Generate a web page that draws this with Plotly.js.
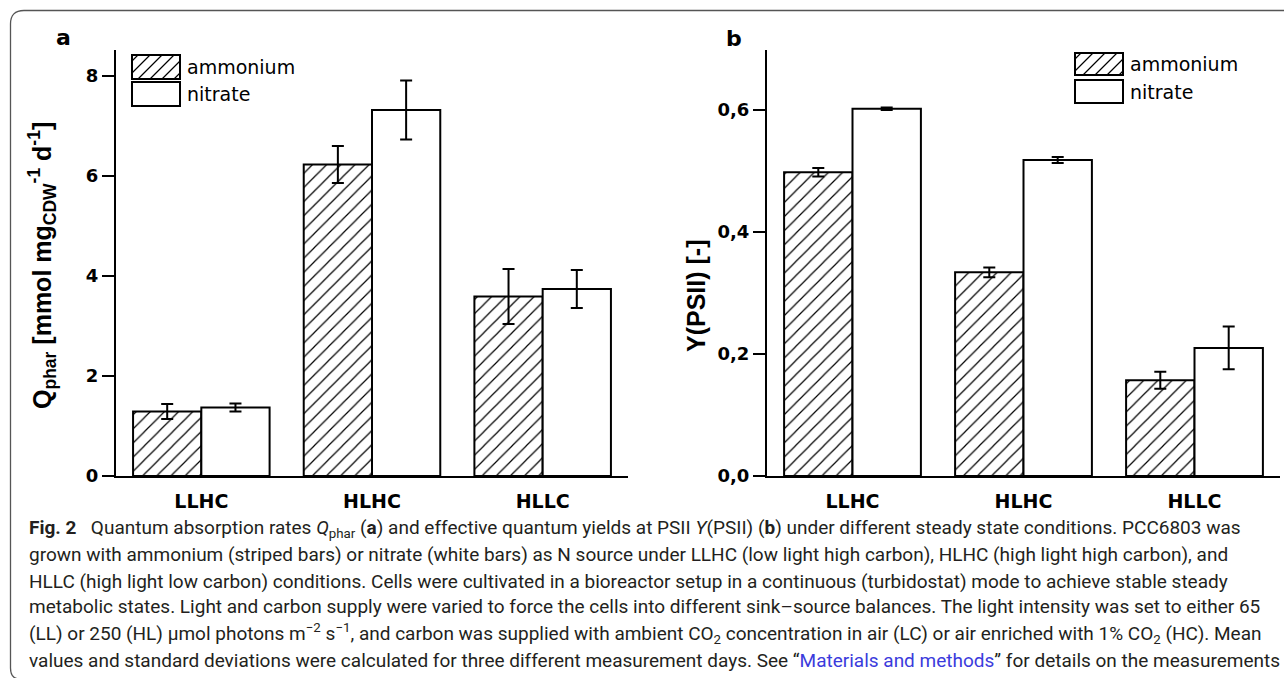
<!DOCTYPE html>
<html>
<head>
<meta charset="utf-8">
<script src="https://cdn.plot.ly/plotly-3.0.1.min.js"></script>
<style>
html,body{margin:0;padding:0;background:#fff;}
#chart{width:1284px;height:678px;}
</style>
</head>
<body>
<div id="chart"></div>
<script>
// ---- data ----
const categories = ['LLHC', 'HLHC', 'HLLC'];
const qpharAmmonium   = [1.29, 6.23, 3.59];
const qpharAmmoniumSd = [0.15, 0.37, 0.55];
const qpharNitrate    = [1.37, 7.32, 3.74];
const qpharNitrateSd  = [0.08, 0.59, 0.38];
const ypsiiAmmonium   = [0.498, 0.334, 0.157];
const ypsiiAmmoniumSd = [0.007, 0.008, 0.014];
const ypsiiNitrate    = [0.602, 0.518, 0.210];
const ypsiiNitrateSd  = [0.002, 0.005, 0.035];
const qpharTicks = [0, 2, 4, 6, 8];
const ypsiiTicks = [0, 0.2, 0.4, 0.6];
const seriesNames = ['ammonium', 'nitrate'];

// ---- helpers ----
const W = 1284, H = 678;
const px = x => x / W;
const py = y => 1 - y / H;

function barTrace(y, sd, hatched, xa, ya, name) {
  const marker = {color: '#ffffff', line: {color: '#000000', width: 2}};
  if (hatched) {
    marker.pattern = {shape: '/', fgcolor: '#000000', bgcolor: '#ffffff', size: 10, solidity: 0.12, fillmode: 'replace'};
  }
  return {
    type: 'bar', x: categories, y: y, name: name, xaxis: xa, yaxis: ya,
    showlegend: false, hoverinfo: 'skip', marker: marker,
    error_y: {type: 'data', array: sd, visible: true, color: '#000000', thickness: 2, width: 6}
  };
}

const data = [
  barTrace(qpharAmmonium, qpharAmmoniumSd, true, 'x', 'y', seriesNames[0]),
  barTrace(qpharNitrate, qpharNitrateSd, false, 'x', 'y', seriesNames[1]),
  barTrace(ypsiiAmmonium, ypsiiAmmoniumSd, true, 'x2', 'y2', seriesNames[0]),
  barTrace(ypsiiNitrate, ypsiiNitrateSd, false, 'x2', 'y2', seriesNames[1])
];

const tickFontY = {family: 'DejaVu Sans', size: 18, color: '#000', weight: 'bold'};
const tickFontX = {family: 'DejaVu Sans', size: 19, color: '#000', weight: 'bold'};

function xAxis(domain, anchor) {
  return {domain: domain, anchor: anchor, range: [-0.5, 2.5], showline: true, linecolor: '#000',
    linewidth: 2, ticks: '', tickfont: tickFontX, ticklabelstandoff: 7, showgrid: false,
    zeroline: false, fixedrange: true};
}
function yAxis(domain, anchor, range, tickvals, fmt) {
  return {domain: domain, anchor: anchor, range: range, tickvals: tickvals, tickformat: fmt,
    showline: true, linecolor: '#000', linewidth: 2, ticks: 'outside', ticklen: 12, tickwidth: 2,
    tickcolor: '#000', tickfont: tickFontY, showgrid: false, zeroline: false, fixedrange: true};
}

const yDom = [py(476), py(50)];

const shapes = [];
const annotations = [];

function note(x, y, text, font, extra) {
  const a = Object.assign({xref: 'paper', yref: 'paper', x: px(x), y: py(y), text: text, showarrow: false,
    xanchor: 'center', yanchor: 'middle', font: font}, extra || {});
  annotations.push(a);
}

// ---- legend swatches (drawn as shapes) ----
function rectPx(x0, y0, x1, y1) {
  shapes.push({type: 'rect', xref: 'paper', yref: 'paper', x0: px(x0), x1: px(x1), y0: py(y1), y1: py(y0),
    line: {color: '#000', width: 2}, fillcolor: '#fff'});
}
function hatchPx(x0, y0, x1, y1, step) {
  let d = '';
  for (let c = x0 + y0 + step / 2; c < x1 + y1; c += step) {
    const xs = Math.max(x0, c - y1), xe = Math.min(x1, c - y0);
    if (xe - xs > 1) d += 'M' + px(xs) + ',' + py(c - xs) + 'L' + px(xe) + ',' + py(c - xe);
  }
  shapes.push({type: 'path', xref: 'paper', yref: 'paper', path: d, line: {color: '#000', width: 1.2}});
}
const legendFont = {family: 'DejaVu Sans', size: 19, color: '#000'};
function legendBlock(x0, x1, ya0, ya1, yb0, yb1, textX) {
  rectPx(x0, ya0, x1, ya1);
  hatchPx(x0, ya0, x1, ya1, 12);
  rectPx(x0, yb0, x1, yb1);
  note(textX, (ya0 + ya1) / 2, seriesNames[0], legendFont, {xanchor: 'left'});
  note(textX, (yb0 + yb1) / 2, seriesNames[1], legendFont, {xanchor: 'left'});
}

// frame of the figure box
shapes.push({type: 'path', xref: 'paper', yref: 'paper',
  path: 'M' + px(1284) + ',' + py(10.5) + 'L' + px(24) + ',' + py(10.5) + 'Q' + px(10.5) + ',' + py(10.5) + ' ' + px(10.5) + ',' + py(24) +
        'L' + px(10.5) + ',' + py(668) + 'Q' + px(10.5) + ',' + py(679) + ' ' + px(20) + ',' + py(679),
  line: {color: '#555', width: 1.3}});

const panelFont = {family: 'DejaVu Sans', size: 22, color: '#000', weight: 'bold'};
note(63.5, 37, 'a', panelFont);
note(734, 38, 'b', panelFont);
const titleFont = {family: 'Liberation Sans', size: 25, color: '#000', weight: 'bold'};
note(42, 266, 'Q<sub>phar</sub> [mmol mg<sub>CDW</sub><sup>-1</sup> d<sup>-1</sup>]', titleFont, {textangle: -90});
note(696, 295, 'Y(PSII) [-]', titleFont, {textangle: -90});

legendBlock(132, 180, 55, 79, 82, 106, 185);
legendBlock(1075, 1123, 53, 75, 80, 103, 1128);

// caption
const captionLines = [
  '<b>Fig. 2</b>\u2002 Quantum absorption rates <i>Q</i><sub>phar</sub> (<b>a</b>) and effective quantum yields at PSII <i>Y</i>(PSII) (<b>b</b>) under different steady state conditions. PCC6803 was',
  'grown with ammonium (striped bars) or nitrate (white bars) as N source under LLHC (low light high carbon), HLHC (high light high carbon), and',
  'HLLC (high light low carbon) conditions. Cells were cultivated in a bioreactor setup in a continuous (turbidostat) mode to achieve stable steady',
  'metabolic states. Light and carbon supply were varied to force the cells into different sink\u2013source balances. The light intensity was set to either 65',
  '(LL) or 250 (HL) \u00b5mol photons m<sup>\u22122</sup> s<sup>\u22121</sup>, and carbon was supplied with ambient CO<sub>2</sub> concentration in air (LC) or air enriched with 1% CO<sub>2</sub> (HC). Mean',
  'values and standard deviations were calculated for three different measurement days. See \u201c<span style="color:#3b3bdc">Materials and methods</span>\u201d for details on the measurements'
];
const captionY = [528, 554, 581, 606, 633, 660];
const captionFont = {family: 'Roboto', size: 19, color: '#231f20'};
captionLines.forEach((t, i) => note(27, captionY[i], t, captionFont, {xanchor: 'left'}));

const layout = {
  width: W, height: H, margin: {l: 0, r: 0, t: 0, b: 0},
  paper_bgcolor: '#fff', plot_bgcolor: 'rgba(0,0,0,0)',
  separators: ',.', barmode: 'group', bargap: 0.2, bargroupgap: 0,
  showlegend: false,
  xaxis: xAxis([px(116), px(628)], 'y'),
  yaxis: yAxis(yDom, 'x', [0, 8.52], qpharTicks, 'd'),
  xaxis2: xAxis([px(767), px(1280)], 'y2'),
  yaxis2: yAxis(yDom, 'x2', [0, 426 / 610], ypsiiTicks, '.1f'),
  shapes: shapes, annotations: annotations
};

Plotly.newPlot('chart', data, layout, {displayModeBar: false, staticPlot: true});
</script>
</body>
</html>
